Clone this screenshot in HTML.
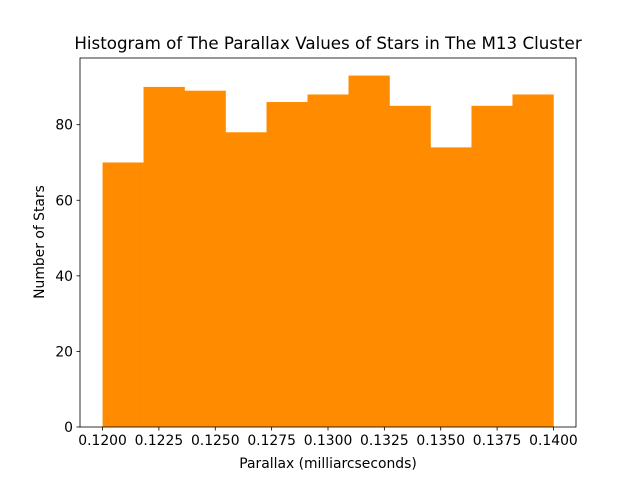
<!DOCTYPE html>
<html><head><meta charset="utf-8"><style>
body{margin:0;background:#fff}
svg text{font-family:"DejaVu Sans","Liberation Sans",sans-serif;fill:#000}
</style></head><body>
<svg id="chart" width="640" height="480" xmlns="http://www.w3.org/2000/svg">
<rect width="640" height="480" fill="#fff"/>
<g id="bars"></g>
<g id="axes"></g>
<text x="328" y="49" font-size="16.7" text-anchor="middle">Histogram of The Parallax Values of Stars in The M13 Cluster</text>
<text x="328" y="468" font-size="13.9" text-anchor="middle">Parallax (milliarcseconds)</text>
<text x="0" y="0" font-size="13.9" text-anchor="middle" transform="translate(44,242) rotate(-90)">Number of Stars</text>
</svg>
<script>
const counts=[70,90,89,78,86,88,93,85,74,85,88];
const binStart=0.12, binEnd=0.14;
const xTicks=[0.12,0.1225,0.125,0.1275,0.13,0.1325,0.135,0.1375,0.14];
const xTickLabels=["0.1200","0.1225","0.1250","0.1275","0.1300","0.1325","0.1350","0.1375","0.1400"];
const yTicks=[0,20,40,60,80];
const L=80,R=576,T=58,B=427;
const NS="http://www.w3.org/2000/svg";
const nb=counts.length, span=binEnd-binStart;
const xmin=binStart-span*0.05, xmax=binEnd+span*0.05;
const ymax=Math.max(...counts)*1.05;
const xs=v=>L+(v-xmin)/(xmax-xmin)*(R-L);
const ys=v=>B-v/ymax*(B-T);
const bars=document.getElementById('bars'), axes=document.getElementById('axes');
function mk(tag,attrs,parent){const e=document.createElementNS(NS,tag);for(const k in attrs)e.setAttribute(k,attrs[k]);parent.appendChild(e);return e;}
counts.forEach((c,i)=>{
  const x0=xs(binStart+span*i/nb), x1=xs(binStart+span*(i+1)/nb);
  const r=mk('rect',{x:x0,y:ys(c),width:x1-x0+0.3,height:ys(0)-ys(c),fill:'#ff8c00'},bars);
  
  
});
const frame=mk('rect',{x:L,y:T,width:R-L,height:B-T,fill:'none',stroke:'#000','stroke-width':0.8},axes);


xTicks.forEach((v,i)=>{
  const x=xs(v);
  mk('line',{x1:x,x2:x,y1:B,y2:B+3.5,stroke:'#000','stroke-width':0.8},axes);
  const t=mk('text',{x:x,y:B+18,'font-size':13.9,'text-anchor':'middle'},axes);
  t.textContent=xTickLabels[i];
  
  
});
yTicks.forEach(v=>{
  const y=ys(v);
  mk('line',{x1:L-3.5,x2:L,y1:y,y2:y,stroke:'#000','stroke-width':0.8},axes);
  const t=mk('text',{x:L-7,y:y+5,'font-size':13.9,'text-anchor':'end'},axes);
  t.textContent=v;
  
  
});
</script>
</body></html>
